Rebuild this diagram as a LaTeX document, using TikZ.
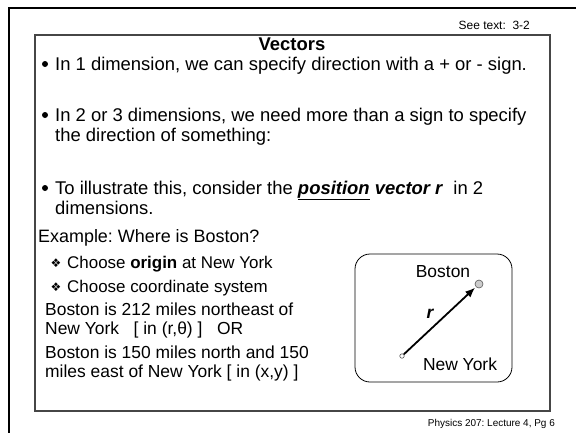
\documentclass[tikz,border=0pt]{standalone}
\usepackage{fontspec}
\setmainfont{Liberation Sans}
\newfontfamily\symfont{DejaVu Sans}
\usetikzlibrary{arrows.meta}
\frenchspacing
\begin{document}
\begin{tikzpicture}[x=1bp,y=-1bp,
  txt/.style={anchor=base west, inner sep=0pt, font=\fontsize{18.5}{20}\selectfont},
  txtb/.style={anchor=base west, inner sep=0pt, font=\fontsize{17.5}{20}\selectfont},
  txtc/.style={anchor=base west, inner sep=0pt, font=\fontsize{17}{20}\selectfont},
  small/.style={anchor=base east, inner sep=0pt, font=\fontsize{12}{14}\selectfont},
  dot/.style={circle, fill=black, minimum size=6bp, inner sep=0pt},
  dia/.style={anchor=base, inner sep=0pt, font=\symfont\fontsize{12}{14}\selectfont},
  lbl/.style={anchor=center, inner sep=0pt, font=\fontsize{17.5}{20}\selectfont}]
\useasboundingbox (0,0) rectangle (576,432);
% outer frame
\draw[line width=2.2bp] (9,440) -- (9,8) -- (580,8);
% inner box
\draw[gray!55!black, line width=1.3bp] (35,35) rectangle (550,411);
\node[small] (see) at (530,29) {See text:\ \ 3-2};
\node[small, font=\fontsize{10}{12}\selectfont] (foot) at (555,426) {Physics 207: Lecture 4, Pg 6};
\node[anchor=base, inner sep=0pt, font=\bfseries\fontsize{18.5}{20}\selectfont] (title) at (292,50) {Vectors};
% bullet 1
\node[dot] (b1) at (45,64) {};
\node[txt] (l1) at (55,70) {In 1 dimension, we can specify direction with a + or - sign.};
% bullet 2
\node[dot] (b2) at (45,115) {};
\node[txt] (l2a) at (55,121) {In 2 or 3 dimensions, we need more than a sign to specify};
\node[txt] (l2b) at (55,141) {the direction of something:};
% bullet 3
\node[dot] (b3) at (45,188) {};
\node[txt] (l3a) at (55,194) {To illustrate this, consider the \textbf{\textit{\underline{position}}} \textbf{\textit{vector r}}\ \ in 2};
\node[txt] (l3b) at (55,214) {dimensions.};
% example
\node[txt, font=\fontsize{18}{20}\selectfont] (ex) at (38,242) {Example: Where is Boston?};
\node[dia] (d1) at (56,267) {❖};
\node[txtc] (c1) at (67,268) {Choose \textbf{origin} at New York};
\node[dia] (d2) at (56,291) {❖};
\node[txtc] (c2) at (67,292) {Choose coordinate system};
\node[txtb] (e1) at (45,315) {Boston is 212 miles northeast of};
\node[txtb] (e2) at (45,334) {New York\ \ \ [ in (r,θ) ]\ \ \ OR};
\node[txtb] (e3) at (45,358) {Boston is 150 miles north and 150};
\node[txtb] (e4) at (45,377) {miles east of New York [ in (x,y) ]};
% map box
\draw[line width=0.8bp, rounded corners=15bp] (355,254) rectangle (512,382);
\node[lbl] (bostonlbl) at (443,272) {Boston};
\node[lbl] (nylbl) at (460,364) {New York};
\node[circle, draw=gray!70!black, fill=gray!40, line width=0.6bp, minimum size=8bp, inner sep=0pt] (boston) at (479,284) {};
\node[circle, draw=gray!70!black, fill=white, line width=0.6bp, minimum size=4.5bp, inner sep=0pt] (ny) at (402,356) {};
\draw[line width=1.8bp, -{Latex[length=10bp,width=8bp]}, shorten >=1bp] (ny) -- (boston);
\node[lbl, font=\bfseries\itshape\fontsize{17.5}{20}\selectfont] (r) at (430,314) {r};
\end{tikzpicture}
\end{document}
